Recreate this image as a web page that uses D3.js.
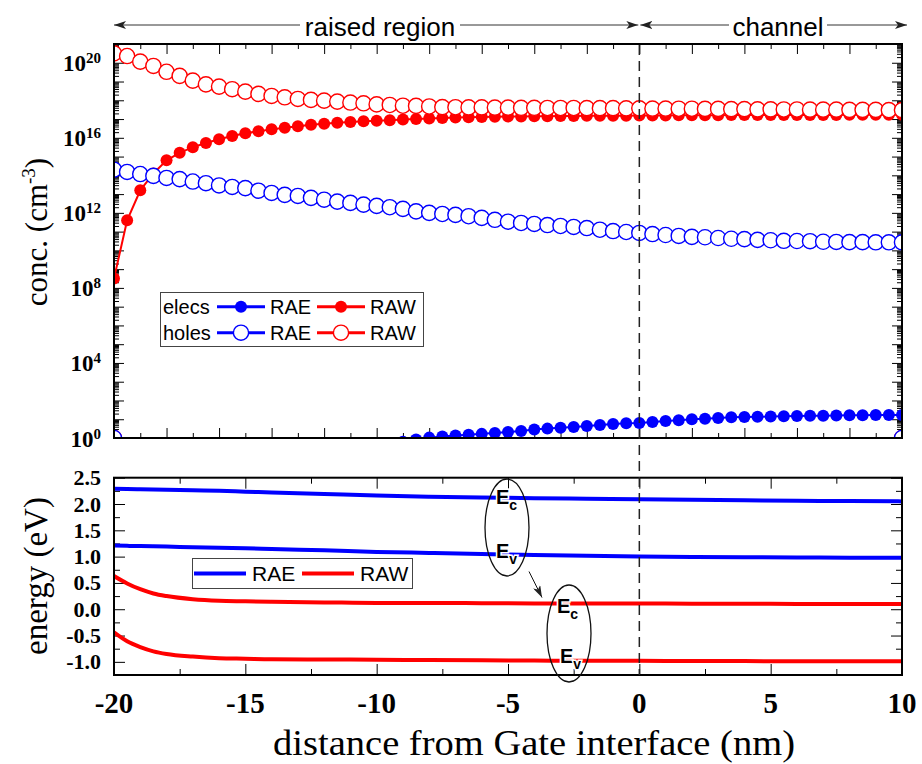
<!DOCTYPE html>
<html>
<head>
<meta charset="utf-8">
<script src="https://cdn.jsdelivr.net/npm/d3@7"></script>
<style>
body { margin: 0; background: #fff; }
</style>
</head>
<body>
<div id="chart"></div>
<script>
// positions (nm) of the simulated points
var pos = [-20,-19.5,-19,-18.5,-18,-17.5,-17,-16.5,-16,-15.5,-15,-14.5,-14,-13.5,-13,-12.5,-12,-11.5,-11,-10.5,
           -10,-9.5,-9,-8.5,-8,-7.5,-7,-6.5,-6,-5.5,-5,-4.5,-4,-3.5,-3,-2.5,-2,-1.5,-1,-0.5,
           0,0.5,1,1.5,2,2.5,3,3.5,4,4.5,5,5.5,6,6.5,7,7.5,8,8.5,9,9.5,10];

// log10 of the concentrations (cm^-3)
var rawElecs = [8.5,11.6,13.2,14.1,14.8,15.2,15.5,15.72,15.92,16.1,16.24,16.35,16.45,16.54,16.62,16.69,16.75,16.8,16.84,16.88,
                16.91,16.94,16.97,17.0,17.03,17.06,17.08,17.1,17.11,17.12,17.13,17.14,17.15,17.15,17.16,17.16,17.17,17.17,17.18,17.18,
                17.19,17.19,17.19,17.2,17.2,17.2,17.2,17.21,17.21,17.21,17.21,17.22,17.22,17.22,17.22,17.22,17.23,17.23,17.23,17.23,17.23];
var rawHoles = [20.5,20.36,20.06,19.83,19.52,19.3,19.05,18.85,18.73,18.59,18.46,18.34,18.23,18.16,18.07,18.02,17.98,17.93,17.88,17.84,
                17.78,17.75,17.71,17.7,17.67,17.64,17.63,17.62,17.62,17.61,17.61,17.6,17.6,17.59,17.59,17.59,17.58,17.58,17.58,17.57,
                17.57,17.56,17.56,17.55,17.55,17.54,17.54,17.53,17.53,17.52,17.52,17.51,17.51,17.5,17.5,17.5,17.49,17.49,17.49,17.48,17.48];
var raeElecs = [-8,-7,-6,-5.4,-4.8,-4.3,-3.9,-3.5,-3.1,-2.8,-2.5,-2.2,-1.95,-1.7,-1.5,-1.3,-1.1,-0.95,-0.8,-0.67,
                -0.55,-0.35,-0.2,-0.08,0.02,0.08,0.13,0.17,0.22,0.27,0.32,0.37,0.45,0.5,0.55,0.59,0.64,0.69,0.74,0.78,
                0.8,0.85,0.9,0.95,1.0,1.02,1.06,1.1,1.12,1.13,1.14,1.16,1.17,1.18,1.19,1.2,1.21,1.21,1.22,1.22,1.23];
var raeHoles = [14.3,14.18,14.07,13.97,13.86,13.8,13.67,13.58,13.46,13.38,13.32,13.18,13.06,12.96,12.9,12.8,12.7,12.6,12.53,12.44,
                12.37,12.3,12.21,12.08,12.0,11.94,11.89,11.82,11.73,11.63,11.53,11.46,11.41,11.35,11.3,11.25,11.19,11.1,11.03,10.98,
                10.93,10.87,10.82,10.77,10.72,10.7,10.66,10.62,10.6,10.56,10.54,10.51,10.5,10.49,10.46,10.45,10.44,10.44,10.43,10.43,10.43];
var wallConc = 1;   // value at the two boundaries (bottom of the axis)

// band edges (eV)
var bandX = [-20,-19.5,-19,-18.5,-18,-17,-16,-15,-14,-12,-10,-8,-6,-4,-2,0,2,4,6,8,10];
var raeEc = [2.29,2.285,2.28,2.275,2.27,2.26,2.25,2.235,2.22,2.19,2.16,2.14,2.125,2.11,2.1,2.09,2.08,2.07,2.06,2.055,2.05];
var raeEv = [1.21,1.205,1.2,1.195,1.19,1.18,1.17,1.16,1.145,1.12,1.09,1.07,1.05,1.03,1.015,1.0,0.995,0.99,0.985,0.98,0.98];
var rawEc = [0.63,0.49,0.38,0.3,0.25,0.19,0.16,0.15,0.14,0.13,0.12,0.12,0.115,0.11,0.11,0.11,0.105,0.105,0.1,0.1,0.1];
var rawEv = [-0.44,-0.61,-0.72,-0.8,-0.85,-0.9,-0.93,-0.94,-0.95,-0.955,-0.96,-0.965,-0.97,-0.975,-0.98,-0.98,-0.985,-0.985,-0.99,-0.99,-0.99];

var distTicks = [-20,-15,-10,-5,0,5,10];
var concLabelExp = [0,4,8,12,16,20];
var energyTicks = [-1.0,-0.5,0.0,0.5,1.0,1.5,2.0,2.5];

var BLUE = "#0000ff", RED = "#ff0000";
var serif = "'Liberation Serif','Times New Roman',serif";
var sans = "'Liberation Sans',Arial,sans-serif";

var svg = d3.select("#chart").append("svg").attr("width", 922).attr("height", 764);
var defs = svg.append("defs");
defs.append("clipPath").attr("id", "clipTop").append("rect").attr("x", 114).attr("y", 44).attr("width", 788).attr("height", 394);
defs.append("clipPath").attr("id", "clipBot").append("rect").attr("x", 114).attr("y", 477.7).attr("width", 788).attr("height", 197.3);
defs.append("marker").attr("id", "head").attr("viewBox", "0 0 12 8").attr("refX", 12).attr("refY", 4)
    .attr("markerWidth", 12).attr("markerHeight", 8).attr("markerUnits", "userSpaceOnUse").attr("orient", "auto")
    .append("path").attr("d", "M0,0 L12,4 L0,8 L3,4 Z").attr("fill", "#222");

var x = d3.scaleLinear().domain([-20, 10]).range([114, 902]);
var yC = d3.scaleLog().domain([1, 1e21]).range([438, 44]);
var yE = d3.scaleLinear().domain([-1.25, 2.5]).range([675, 477.7]);

// ---------- top panel: concentrations ----------
var gTop = svg.append("g");
var decades = d3.range(0, 22).map(function(e){ return Math.pow(10, e); });
var minorC = [];
decades.slice(0, 21).forEach(function(d){ for (var m = 2; m < 10; m++) minorC.push(d * m); });
var xTicksTop = d3.range(-20, 10.5, 1);
var xEven = xTicksTop.filter(function(d){ return d % 2 === 0; });
var xOdd = xTicksTop.filter(function(d){ return d % 2 !== 0; });

gTop.append("g").attr("transform", "translate(114,0)").call(d3.axisLeft(yC).tickValues(decades).tickSize(-10).tickFormat(""));
gTop.append("g").attr("transform", "translate(114,0)").call(d3.axisLeft(yC).tickValues(minorC).tickSize(-5).tickFormat(""));
gTop.append("g").attr("transform", "translate(902,0)").call(d3.axisRight(yC).tickValues(decades).tickSize(-10).tickFormat(""));
gTop.append("g").attr("transform", "translate(902,0)").call(d3.axisRight(yC).tickValues(minorC).tickSize(-5).tickFormat(""));
gTop.append("g").attr("transform", "translate(0,438)").call(d3.axisBottom(x).tickValues(xEven).tickSize(-10).tickFormat(""));
gTop.append("g").attr("transform", "translate(0,438)").call(d3.axisBottom(x).tickValues(xOdd).tickSize(-5).tickFormat(""));
gTop.append("g").attr("transform", "translate(0,44)").call(d3.axisTop(x).tickValues(xEven).tickSize(-10).tickFormat(""));
gTop.append("g").attr("transform", "translate(0,44)").call(d3.axisTop(x).tickValues(xOdd).tickSize(-5).tickFormat(""));
gTop.selectAll(".domain").remove();

var labC = gTop.append("g").selectAll("text").data(concLabelExp).enter().append("text")
    .attr("x", 101).attr("y", function(d){ return yC(Math.pow(10, d)) + 8.5; })
    .attr("text-anchor", "end").style("font-family", serif).style("font-weight", "bold").style("font-size", "23px");
labC.append("tspan").text("10");
labC.append("tspan").attr("dy", -8).style("font-size", "15px").text(function(d){ return d; });

var plotTop = gTop.append("g").attr("clip-path", "url(#clipTop)");
var concLine = d3.line().x(function(d){ return x(d[0]); }).y(function(d){ return yC(d[1]); });

function series(vals, color, filled) {
  var pts = pos.map(function(p, i){ return [p, Math.pow(10, vals[i])]; });
  var full = [[-20, wallConc]].concat(pts).concat([[10, wallConc]]);
  plotTop.append("path").datum(full).attr("d", concLine).attr("fill", "none").attr("stroke", color).attr("stroke-width", 2);
  plotTop.append("g").selectAll("circle").data(full).enter().append("circle")
    .attr("cx", function(d){ return x(d[0]); }).attr("cy", function(d){ return yC(d[1]); })
    .attr("r", filled ? 6 : 7.6)
    .attr("fill", filled ? color : "#fff").attr("stroke", color).attr("stroke-width", filled ? 0 : 1.4);
}
series(rawElecs, RED, true);
series(rawHoles, RED, false);
series(raeElecs, BLUE, true);
series(raeHoles, BLUE, false);

gTop.append("rect").attr("x", 114).attr("y", 44).attr("width", 788).attr("height", 394)
   .attr("fill", "none").attr("stroke", "#000").attr("stroke-width", 2);

// legend (top)
var legT = gTop.append("g");
legT.append("rect").attr("x", 160.5).attr("y", 292.5).attr("width", 263).attr("height", 54).attr("fill", "#fff").attr("stroke", "#444").attr("stroke-width", 1);
var legRows = [{name: "elecs", y: 306.7, filled: true}, {name: "holes", y: 332.7, filled: false}];
var legCols = [{name: "RAE", x0: 217, color: BLUE}, {name: "RAW", x0: 317, color: RED}];
legRows.forEach(function(r){
  legT.append("text").attr("x", 163).attr("y", r.y + 7).style("font-family", sans).style("font-size", "20px").text(r.name);
  legCols.forEach(function(c){
    legT.append("line").attr("x1", c.x0).attr("x2", c.x0 + 48).attr("y1", r.y).attr("y2", r.y).attr("stroke", c.color).attr("stroke-width", 3);
    legT.append("circle").attr("cx", c.x0 + 24).attr("cy", r.y).attr("r", r.filled ? 6 : 7.6)
        .attr("fill", r.filled ? c.color : "#fff").attr("stroke", c.color).attr("stroke-width", r.filled ? 0 : 1.4);
    legT.append("text").attr("x", c.x0 + 53).attr("y", r.y + 7).style("font-family", sans).style("font-size", "20px").text(c.name);
  });
});

// region arrows
var ann = svg.append("g").style("font-family", sans).style("font-size", "26px");
ann.append("text").attr("x", 380).attr("y", 35.5).attr("text-anchor", "middle").text("raised region");
ann.append("text").attr("x", 778).attr("y", 35.5).attr("text-anchor", "middle").text("channel");
ann.append("line").attr("x1", 300).attr("x2", x(-20)).attr("y1", 25).attr("y2", 25).attr("stroke", "#333").attr("stroke-width", 1).attr("marker-end", "url(#head)");
ann.append("line").attr("x1", 460).attr("x2", x(0) - 1).attr("y1", 25).attr("y2", 25).attr("stroke", "#333").attr("stroke-width", 1).attr("marker-end", "url(#head)");
ann.append("line").attr("x1", 729).attr("x2", x(0) + 1).attr("y1", 25).attr("y2", 25).attr("stroke", "#333").attr("stroke-width", 1).attr("marker-end", "url(#head)");
ann.append("line").attr("x1", 827).attr("x2", x(10) + 5).attr("y1", 25).attr("y2", 25).attr("stroke", "#333").attr("stroke-width", 1).attr("marker-end", "url(#head)");

// ---------- bottom panel: band edges ----------
var gBot = svg.append("g");
var eMajor = d3.range(-1, 2.51, 0.5);
var eMinor = d3.range(-1.25, 2.5, 0.5);
var xMinorB = d3.range(-17.5, 10, 5);
gBot.append("g").attr("transform", "translate(114,0)").call(d3.axisLeft(yE).tickValues(eMajor).tickSize(-11).tickFormat(""));
gBot.append("g").attr("transform", "translate(114,0)").call(d3.axisLeft(yE).tickValues(eMinor).tickSize(-6).tickFormat(""));
gBot.append("g").attr("transform", "translate(902,0)").call(d3.axisRight(yE).tickValues(eMajor).tickSize(-11).tickFormat(""));
gBot.append("g").attr("transform", "translate(902,0)").call(d3.axisRight(yE).tickValues(eMinor).tickSize(-6).tickFormat(""));
gBot.append("g").attr("transform", "translate(0,675)").call(d3.axisBottom(x).tickValues(distTicks).tickSize(-11).tickFormat(""));
gBot.append("g").attr("transform", "translate(0,675)").call(d3.axisBottom(x).tickValues(xMinorB).tickSize(-6).tickFormat(""));
gBot.append("g").attr("transform", "translate(0,477.7)").call(d3.axisTop(x).tickValues(distTicks).tickSize(-11).tickFormat(""));
gBot.append("g").attr("transform", "translate(0,477.7)").call(d3.axisTop(x).tickValues(xMinorB).tickSize(-6).tickFormat(""));
gBot.selectAll(".domain").remove();

gBot.append("g").selectAll("text").data(energyTicks).enter().append("text")
   .attr("x", 101).attr("y", function(d){ return yE(d) + 7.5; }).attr("text-anchor", "end")
   .style("font-family", serif).style("font-weight", "bold").style("font-size", "22px")
   .text(function(d){ return d3.format(".1f")(d).replace("\u2212", "-"); });
gBot.append("g").selectAll("text").data(distTicks).enter().append("text")
   .attr("x", function(d){ return x(d); }).attr("y", 713).attr("text-anchor", "middle")
   .style("font-family", serif).style("font-weight", "bold").style("font-size", "29px")
   .text(function(d){ return String(d); });

var plotBot = gBot.append("g").attr("clip-path", "url(#clipBot)");
var bandLine = d3.line().curve(d3.curveMonotoneX).x(function(d){ return x(d[0]); }).y(function(d){ return yE(d[1]); });
[[raeEc, BLUE], [raeEv, BLUE], [rawEc, RED], [rawEv, RED]].forEach(function(b){
  plotBot.append("path").datum(bandX.map(function(p, i){ return [p, b[0][i]]; }))
    .attr("d", bandLine).attr("fill", "none").attr("stroke", b[1]).attr("stroke-width", 4);
});

gBot.append("rect").attr("x", 114).attr("y", 477.7).attr("width", 788).attr("height", 197.3)
   .attr("fill", "none").attr("stroke", "#000").attr("stroke-width", 2);

// legend (bottom)
var legB = gBot.append("g");
legB.append("rect").attr("x", 192.5).attr("y", 558.5).attr("width", 220).attr("height", 30).attr("fill", "#fff").attr("stroke", "#444").attr("stroke-width", 1);
[{name: "RAE", x0: 194, color: BLUE}, {name: "RAW", x0: 302, color: RED}].forEach(function(c){
  legB.append("line").attr("x1", c.x0).attr("x2", c.x0 + 52).attr("y1", 573.5).attr("y2", 573.5).attr("stroke", c.color).attr("stroke-width", 4);
  legB.append("text").attr("x", c.x0 + 58).attr("y", 581).style("font-family", sans).style("font-size", "21px").text(c.name);
});

// Ec / Ev annotations
var ell = gBot.append("g");
ell.append("ellipse").attr("cx", 507).attr("cy", 527.5).attr("rx", 22).attr("ry", 48.5).attr("fill", "none").attr("stroke", "#111").attr("stroke-width", 1.3);
ell.append("ellipse").attr("cx", 569).attr("cy", 633.5).attr("rx", 22).attr("ry", 48.5).attr("fill", "none").attr("stroke", "#111").attr("stroke-width", 1.3);
ell.append("line").attr("x1", 529).attr("y1", 571.5).attr("x2", 542).attr("y2", 597.5).attr("stroke", "#111").attr("stroke-width", 1).attr("marker-end", "url(#head)");
var bandLabels = [{x: 496, y: 504, sub: "c"}, {x: 496, y: 558, sub: "v"}, {x: 557, y: 613, sub: "c"}, {x: 560, y: 663, sub: "v"}];
bandLabels.forEach(function(l){
  var t = ell.append("text").attr("x", l.x).attr("y", l.y).style("font-family", sans).style("font-weight", "bold").style("font-size", "20px")
    .attr("stroke", "#fff").attr("stroke-width", 3).attr("paint-order", "stroke").attr("fill", "#000");
  t.append("tspan").text("E");
  t.append("tspan").attr("dy", 6).style("font-size", "14px").text(l.sub);
});

// interface line at x = 0
svg.append("line").attr("x1", x(0)).attr("x2", x(0)).attr("y1", 45).attr("y2", 675)
   .attr("stroke", "#222").attr("stroke-width", 1.5).attr("stroke-dasharray", "10,6");

// axis titles
svg.append("text").attr("transform", "translate(47,232) rotate(-90)").attr("text-anchor", "middle")
   .style("font-family", serif).style("font-size", "31px")
   .html("conc. (cm<tspan dy='-12' font-size='19px'>-3</tspan><tspan dy='12'>)</tspan>");
svg.append("text").attr("transform", "translate(47,576) rotate(-90)").attr("text-anchor", "middle")
   .style("font-family", serif).style("font-size", "33px").text("energy (eV)");
svg.append("text").attr("x", 534).attr("y", 755).attr("text-anchor", "middle")
   .attr("textLength", 522).attr("lengthAdjust", "spacingAndGlyphs")
   .style("font-family", serif).style("font-size", "35px").text("distance from Gate interface (nm)");
</script>
</body>
</html>
